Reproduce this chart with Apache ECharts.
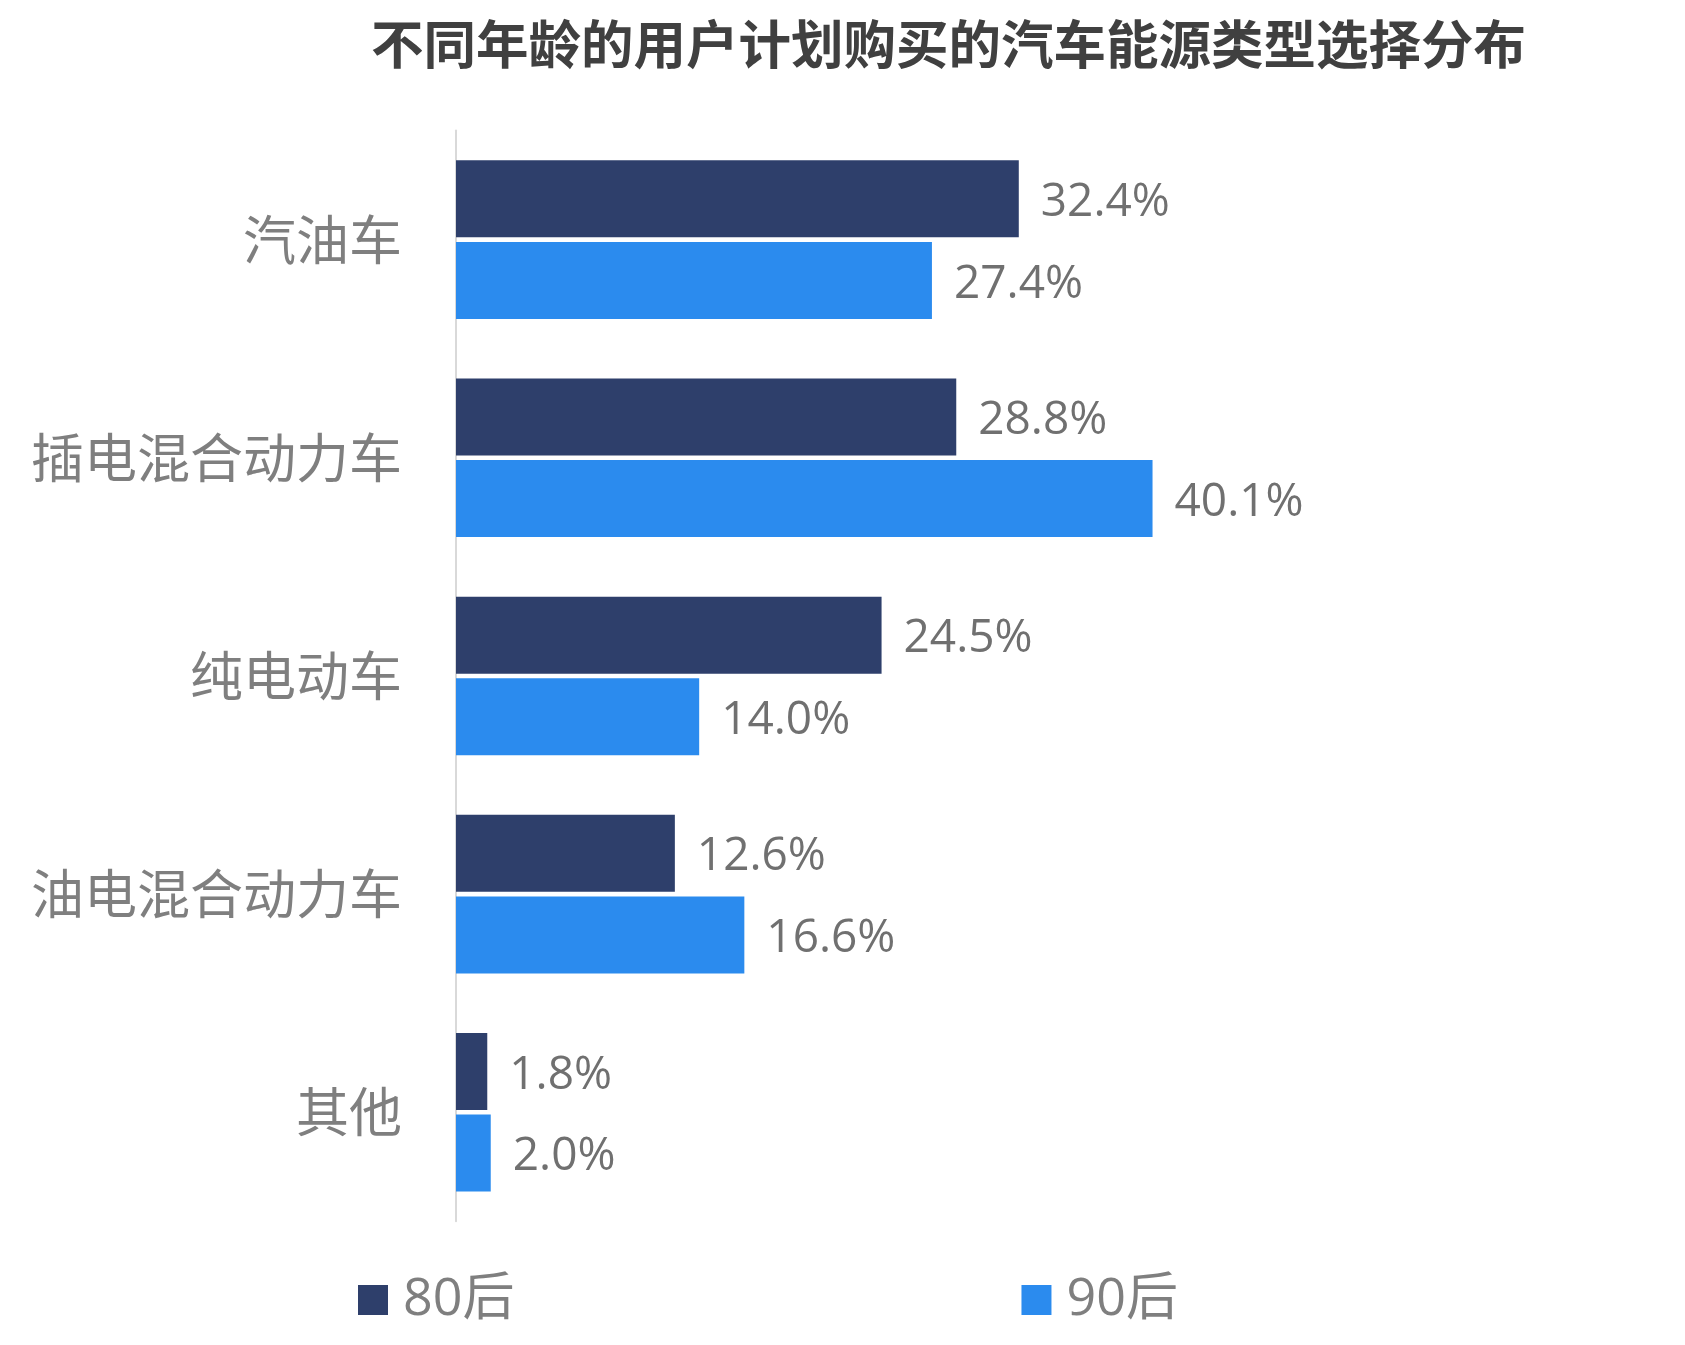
<!DOCTYPE html>
<html>
<head>
<meta charset="utf-8">
<script src="https://cdn.jsdelivr.net/npm/echarts@6/dist/echarts.min.js"></script>
<style>
    html, body { margin: 0; padding: 0; background: #fff; }
    #chart { width: 1685px; height: 1345px; }
</style>
</head>
<body>
<div id="chart"></div>
<script>
// 不同年龄用户计划购买的汽车能源类型
var categories = ['汽油车', '插电混合动力车', '纯电动车', '油电混合动力车', '其他'];
var seriesNames = ['80后', '90后'];
var data80 = [32.4, 28.8, 24.5, 12.6, 1.8];
var data90 = [27.4, 40.1, 14.0, 16.6, 2.0];

var cjk = '"Noto Sans CJK SC", "Noto Sans", sans-serif';
var labelFont = '"Open Sans", "Noto Sans CJK SC", sans-serif';

var myChart = echarts.init(document.getElementById('chart'));

var barLabel = {
    show: true,
    position: 'right',
    distance: 22,
    offset: [0, 4],
    fontFamily: labelFont,
    fontSize: 46,
    color: '#707070',
    formatter: function (p) { return p.value.toFixed(1) + '%'; }
};

var option = {
    backgroundColor: '#ffffff',
    animation: false,
    title: {
        text: '不同年龄的用户计划购买的汽车能源类型选择分布',
        left: 366,
        top: 13,
        textStyle: {
            fontFamily: cjk,
            fontSize: 52.5,
            fontWeight: 'bold',
            color: '#404040'
        }
    },
    legend: {
        data: seriesNames,
        left: 353,
        top: 1269,
        itemWidth: 30,
        itemHeight: 30,
        itemGap: 507,
        icon: 'rect',
        textStyle: {
            fontFamily: labelFont,
            fontSize: 52,
            color: '#7f7f7f',
            padding: [0, 0, 0, 10]
        }
    },
    grid: {
        left: 456,
        top: 130.6,
        width: 868.5,
        height: 1090.7,
        containLabel: false
    },
    xAxis: {
        type: 'value',
        min: 0,
        max: 50,
        show: false
    },
    yAxis: {
        type: 'category',
        data: categories,
        inverse: true,
        axisLine: { show: true, lineStyle: { color: '#d9d9d9', width: 2 } },
        axisTick: { show: false },
        axisLabel: {
            fontFamily: cjk,
            fontSize: 53,
            color: '#7f7f7f',
            margin: 54
        }
    },
    series: [
        {
            name: seriesNames[0],
            type: 'bar',
            data: data80,
            barWidth: 77,
            barGap: '6%',
            itemStyle: { color: '#2e3f6b' },
            label: barLabel
        },
        {
            name: seriesNames[1],
            type: 'bar',
            data: data90,
            barWidth: 77,
            barGap: '6%',
            itemStyle: { color: '#2b8bee' },
            label: barLabel
        }
    ]
};

myChart.setOption(option);
</script>
</body>
</html>
